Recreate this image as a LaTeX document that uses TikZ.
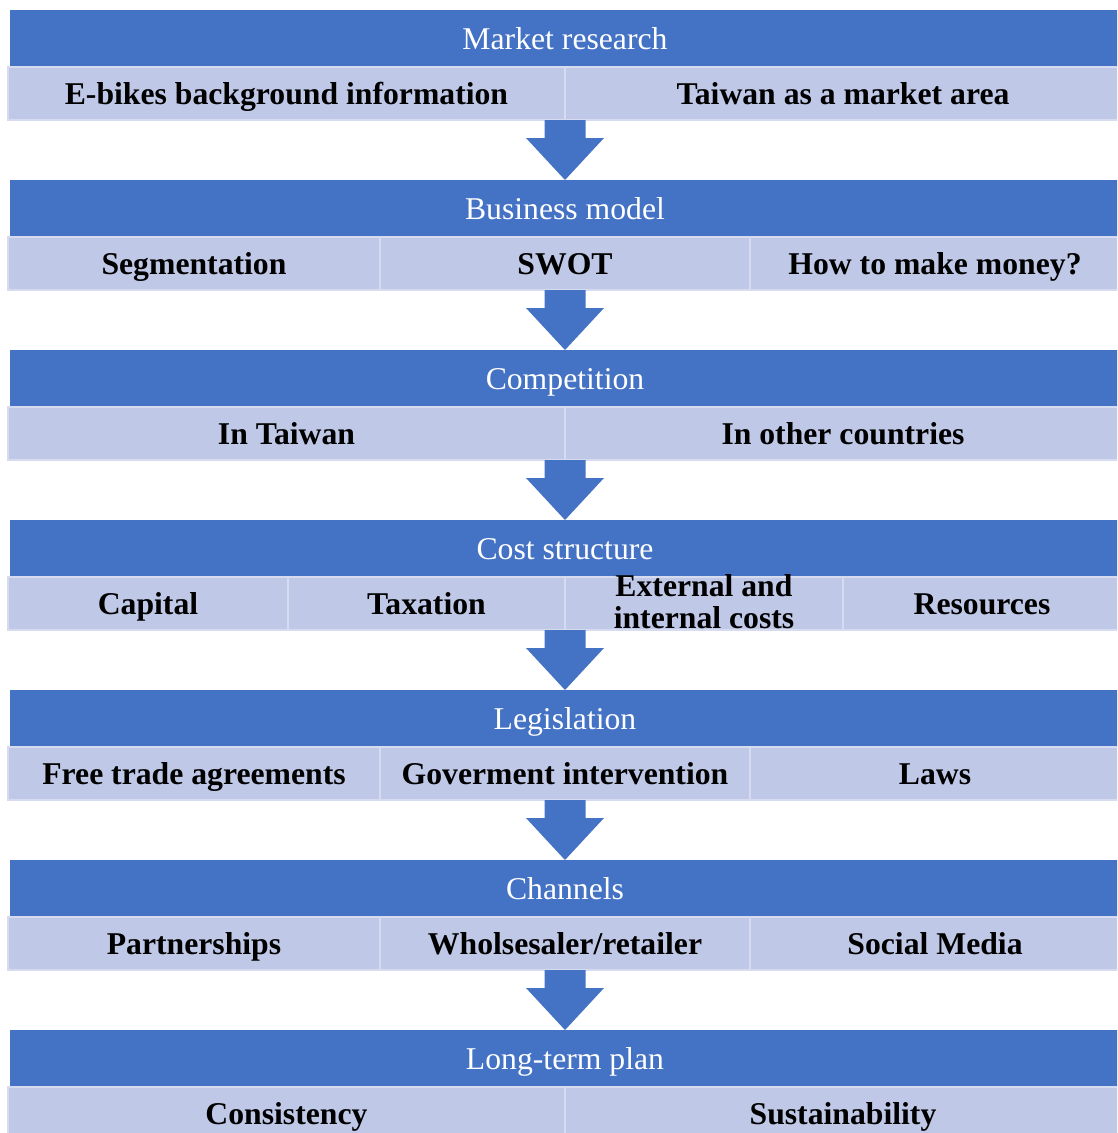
\documentclass[tikz,border=0pt]{standalone}
\usepackage{fontspec}
\setmainfont{Liberation Serif}
\usetikzlibrary{calc}
\definecolor{hdrblue}{HTML}{4472C4}
\definecolor{celllight}{HTML}{BFC8E6}
\definecolor{cellline}{HTML}{D6DBEF}
\tikzset{
  hdr/.style={fill=hdrblue, text=white, font=\fontsize{31.7}{33}\selectfont,
    minimum width=1110pt, minimum height=57pt, inner sep=0pt, outer sep=0pt,
    text height=21pt, text depth=0pt},
  cell/.style={fill=celllight, draw=cellline, line width=1.5pt,
    font=\bfseries\fontsize{31.7}{33}\selectfont, minimum height=53pt,
    inner sep=0pt, outer sep=0pt, text height=21pt, text depth=0pt},
  twoline/.style={font=\bfseries\fontsize{31.7}{32}\selectfont, align=center, inner sep=0pt},
  flowfill/.style={fill=hdrblue}
}
\newcommand\blockarrow[2]{%
  \fill[flowfill] ($(#1)+(-20.5,0)$) -- ($(#1)+(-20.5,18)$) -- ($(#1)+(-39,18)$)
    -- (#2.north) -- ($(#1)+(39,18)$) -- ($(#1)+(20.5,18)$) -- ($(#1)+(20.5,0)$) -- cycle;}
\begin{document}
\begin{tikzpicture}[x=1pt,y=-1pt]
\useasboundingbox (0,0) rectangle (1117,1133);
\clip (0,0) rectangle (1117,1133);
% block 1
\node[hdr] (h1) at (565,38.5) {Market research};
\node[cell, minimum width=557pt] (c1a) at (286.5,93.5) {E-bikes background information};
\node[cell, minimum width=556pt] (c1b) at (843,93.5) {Taiwan as a market area};
% block 2
\node[hdr] (h2) at (565,208.5) {Business model};
\node[cell, minimum width=372pt] (c2a) at (194,263.5) {Segmentation};
\node[cell, minimum width=370pt] (c2b) at (565,263.5) {SWOT};
\node[cell, minimum width=370pt] (c2c) at (935,263.5) {How to make money?};
% block 3
\node[hdr] (h3) at (565,378.5) {Competition};
\node[cell, minimum width=557pt] (c3a) at (286.5,433.5) {In Taiwan};
\node[cell, minimum width=556pt] (c3b) at (843,433.5) {In other countries};
% block 4
\node[hdr] (h4) at (565,548.5) {Cost structure};
\node[cell, minimum width=280pt] (c4a) at (148,603.5) {Capital};
\node[cell, minimum width=277pt] (c4b) at (426.5,603.5) {Taxation};
\node[cell, minimum width=278pt] (c4c) at (704,603.5) {};
\node[twoline] (t4c) at (704,602) {External and\\internal costs};
\node[cell, minimum width=278pt] (c4d) at (982,603.5) {Resources};
% block 5
\node[hdr] (h5) at (565,718.5) {Legislation};
\node[cell, minimum width=372pt] (c5a) at (194,773.5) {Free trade agreements};
\node[cell, minimum width=370pt] (c5b) at (565,773.5) {Goverment intervention};
\node[cell, minimum width=370pt] (c5c) at (935,773.5) {Laws};
% block 6
\node[hdr] (h6) at (565,888.5) {Channels};
\node[cell, minimum width=372pt] (c6a) at (194,943.5) {Partnerships};
\node[cell, minimum width=370pt] (c6b) at (565,943.5) {Wholsesaler/retailer};
\node[cell, minimum width=370pt] (c6c) at (935,943.5) {Social Media};
% block 7
\node[hdr] (h7) at (565,1058.5) {Long-term plan};
\node[cell, minimum width=557pt] (c7a) at (286.5,1113.5) {Consistency};
\node[cell, minimum width=556pt] (c7b) at (843,1113.5) {Sustainability};
% arrows
\coordinate (s1) at (h1.center |- c1a.south);
\coordinate (s2) at (h2.center |- c2b.south);
\coordinate (s3) at (h3.center |- c3a.south);
\coordinate (s4) at (h4.center |- c4a.south);
\coordinate (s5) at (h5.center |- c5b.south);
\coordinate (s6) at (h6.center |- c6b.south);
\blockarrow{s1}{h2}
\blockarrow{s2}{h3}
\blockarrow{s3}{h4}
\blockarrow{s4}{h5}
\blockarrow{s5}{h6}
\blockarrow{s6}{h7}
\end{tikzpicture}
\end{document}
